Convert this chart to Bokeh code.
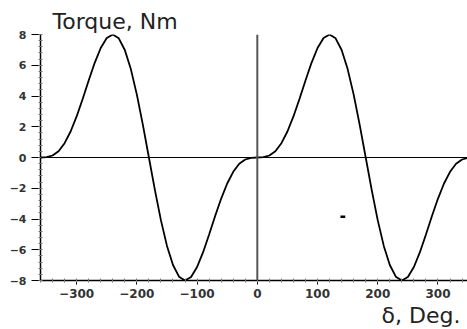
from bokeh.plotting import figure
from bokeh.models import Span, Range1d, FixedTicker, Title
from bokeh.embed import file_html
from bokeh.resources import INLINE

# angle (deg) and torque (Nm)
delta_pos = [0, 10, 20, 30, 40, 50, 60, 70, 80, 90, 100, 110, 120, 130, 140, 150, 160, 170, 180,
             190, 200, 210, 220, 230, 240, 250, 260, 270, 280, 290, 300, 310, 320, 330, 340, 350, 360]
torque_pos = [0.0, 0.02, 0.13, 0.41, 0.93, 1.69, 2.67, 3.81, 5.01, 6.16, 7.12, 7.77, 8.0, 7.75, 6.99, 5.75, 4.09, 2.12, 0.0,
              -2.12, -4.09, -5.75, -6.99, -7.75, -8.0, -7.77, -7.12, -6.16, -5.01, -3.81, -2.67, -1.69, -0.93, -0.41, -0.13, -0.02, 0.0]
delta_neg = [-360, -350, -340, -330, -320, -310, -300, -290, -280, -270, -260, -250, -240, -230, -220, -210, -200, -190, -180,
             -170, -160, -150, -140, -130, -120, -110, -100, -90, -80, -70, -60, -50, -40, -30, -20, -10]
torque_neg = [0.0, 0.02, 0.13, 0.41, 0.93, 1.69, 2.67, 3.81, 5.01, 6.16, 7.12, 7.77, 8.0, 7.75, 6.99, 5.75, 4.09, 2.12, 0.0,
              -2.12, -4.09, -5.75, -6.99, -7.75, -8.0, -7.77, -7.12, -6.16, -5.01, -3.81, -2.67, -1.69, -0.93, -0.41, -0.13, -0.02]
x_ticks = [-300, -200, -100, 0, 100, 200, 300]
y_ticks = [-8, -6, -4, -2, 0, 2, 4, 6, 8]
# small stray mark visible in the scan
stray_x = [138, 146]
stray_y = [-3.85, -3.85]

delta = delta_neg + delta_pos
torque = torque_neg + torque_pos

p = figure(width=467, height=329, output_backend="svg", toolbar_location=None,
           x_range=Range1d(-360, 349), y_range=Range1d(-8, 8))
p.min_border_left = 40
p.min_border_right = 0
p.min_border_top = 34
p.min_border_bottom = 49
p.outline_line_color = None
p.grid.visible = False
p.background_fill_color = "white"

p.title.text = "Torque, Nm"
p.title.align = "left"
p.title.offset = 12
p.title.standoff = 2
p.title.text_font = "DejaVu Sans"
p.title.text_font_size = "22px"
p.title.text_font_style = "normal"
p.title.text_color = "#222222"

p.add_layout(Title(text="δ, Deg.", align="right", offset=7, standoff=0,
                   text_font="DejaVu Sans", text_font_size="22px", text_font_style="normal",
                   text_color="#222222"), "below")

p.line(delta, torque, line_color="black", line_width=1.8)
p.line(stray_x, stray_y, line_color="black", line_width=2.5)

p.add_layout(Span(location=0, dimension="width", line_color="black", line_width=1))
p.add_layout(Span(location=0, dimension="height", line_color="#555555", line_width=2))

for ax in (p.xaxis[0], p.yaxis[0]):
    ax.axis_line_color = "black"
    ax.axis_line_width = 1.5
    ax.major_tick_line_color = "black"
    ax.minor_tick_line_color = "#777777"
    ax.major_label_text_font = "DejaVu Sans"
    ax.major_label_text_font_style = "bold"
    ax.major_label_text_color = "#333333"
    ax.minor_tick_out = 2
    ax.minor_tick_in = 2

p.xaxis[0].major_label_text_font_size = "12px"
p.yaxis[0].major_label_text_font_size = "11px"
p.xaxis[0].ticker = FixedTicker(ticks=x_ticks, minor_ticks=list(range(-360, 361, 20)))
p.yaxis[0].ticker = FixedTicker(ticks=y_ticks, minor_ticks=[v / 2.5 for v in range(-20, 21)])
p.xaxis[0].major_tick_out = 4
p.xaxis[0].major_tick_in = 0
p.xaxis[0].major_label_standoff = 4
p.yaxis[0].major_tick_out = 9
p.yaxis[0].major_tick_in = 0
p.yaxis[0].major_label_standoff = 5

open("out.html", "w").write(file_html(p, INLINE))
